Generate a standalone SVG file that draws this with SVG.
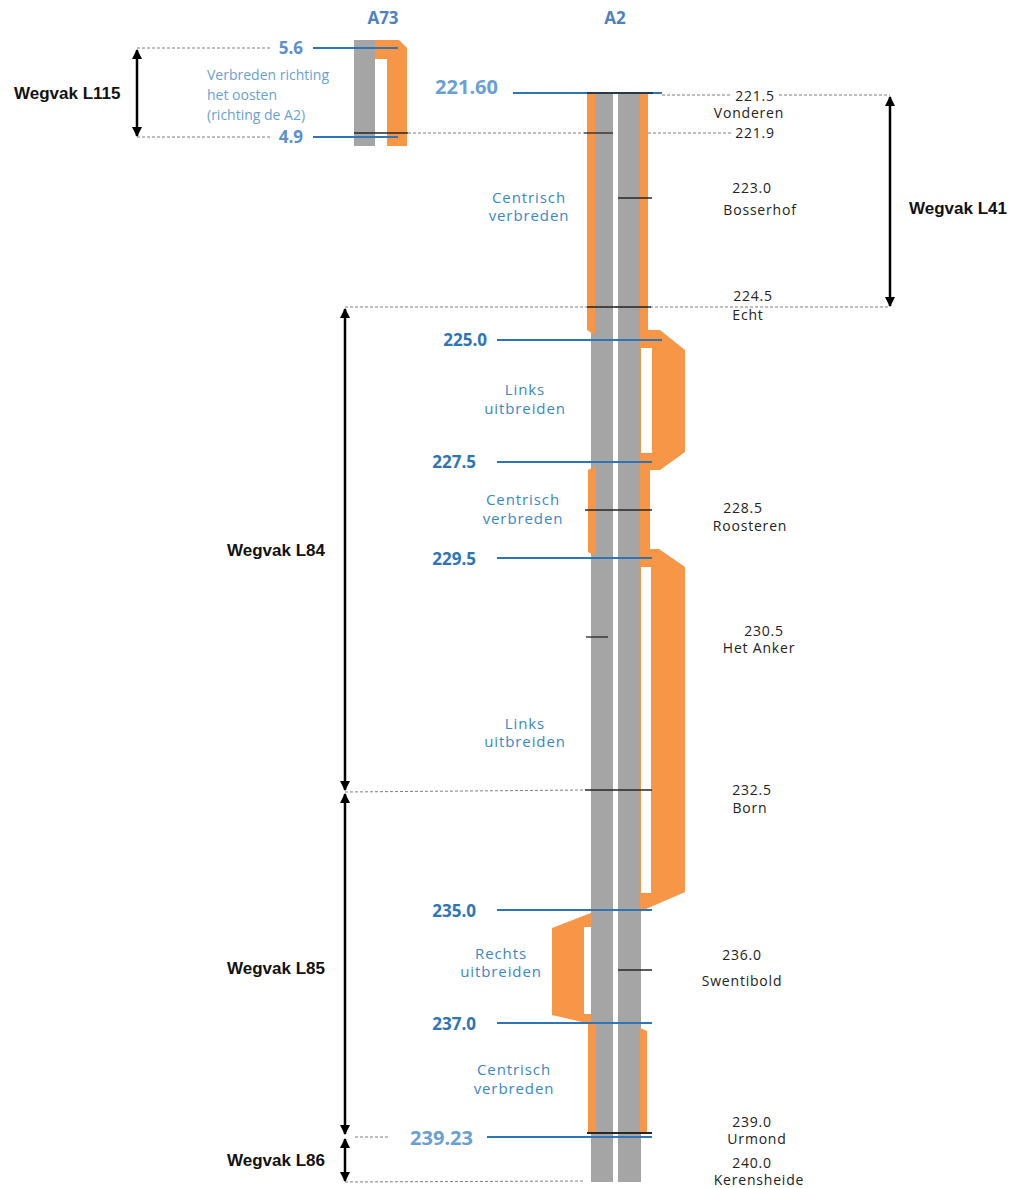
<svg xmlns="http://www.w3.org/2000/svg" width="1024" height="1188" viewBox="0 0 1024 1188">
<style>
.gray{fill:#a5a5a5}
.or{fill:#f79646}
.wh{fill:#ffffff}
.km{stroke:#2e75b6;stroke-width:2;fill:none}
.tick{stroke:#262626;stroke-width:1.3;fill:none}
.dash{stroke:#7f7f7f;stroke-width:1;stroke-dasharray:3 2;fill:none}
.arr{stroke:#000;stroke-width:2.5;fill:none;marker-start:url(#ah);marker-end:url(#ah)}
.wv{font-family:"Liberation Sans",Arial,sans-serif;font-weight:bold;font-size:17px;fill:#111}
.lbl{font-family:"Open Sans",sans-serif;font-size:14px;letter-spacing:0.8px;fill:#222;text-anchor:middle}
.sec{font-family:"Open Sans",sans-serif;font-size:15px;letter-spacing:0.9px;fill:#3b87c4;text-anchor:middle}
.kmt{font-family:"Open Sans",sans-serif;font-weight:bold;font-size:17px;fill:#2e75b6;text-anchor:end}
.kml{font-family:"Open Sans",sans-serif;font-weight:bold;font-size:20px;fill:#6a9fd4;text-anchor:end}
.hd{font-family:"Open Sans",sans-serif;font-weight:bold;font-size:17px;fill:#4f81bd;text-anchor:middle}
.a73t{font-family:"Open Sans",sans-serif;font-size:14px;fill:#6a9fd4}
</style>
<defs>
<marker id="ah" viewBox="0 0 10 10" refX="9" refY="5" markerWidth="4" markerHeight="4" orient="auto-start-reverse" markerUnits="strokeWidth">
<path d="M0,0 L10,5 L0,10 z" fill="#000"/>
</marker>
</defs>

<g id="headers">
<text class="hd" x="383" y="24">A73</text>
<text class="hd" x="615" y="24">A2</text>
</g>

<g id="a73-road">
<rect class="gray" x="354" y="40" width="21" height="106"/>
<path class="or" d="M375,40 L399,40 L407,48 L407,146 L387,146 L387,59 L375,59 Z"/>
</g>

<g id="a2-road">
<rect class="gray" x="591" y="93" width="22" height="1089"/>
<rect class="gray" x="618" y="93" width="23" height="1089"/>
<!-- Centrisch 221.6 - 225.0 -->
<path class="or" d="M587,93 L595,93 L595,335 L587,330 Z"/>
<rect class="or" x="640" y="93" width="8" height="240"/>
<!-- Links uitbreiden 225.0 - 227.5 -->
<path class="or" d="M640,330 L660,330 L685,350 L685,452 L660,470 L640,470 Z"/>
<rect class="wh" x="641" y="348" width="11" height="105"/>
<!-- Centrisch 227.5 - 229.5 -->
<path class="or" d="M588,470 L596,466 L596,556 L588,552 Z"/>
<rect class="or" x="640" y="465" width="10" height="90"/>
<!-- Links uitbreiden 229.5 - 235.0 -->
<path class="or" d="M640,549 L659,549 L685,567 L685,892 L646,909 L640,909 Z"/>
<rect class="wh" x="641" y="567" width="10" height="326"/>
<!-- Rechts uitbreiden 235.0 - 237.0 -->
<path class="or" d="M596,911 L552,928 L552,1015 L591,1024 L591,911 Z"/>
<rect class="wh" x="584" y="927" width="7" height="87"/>
<!-- Centrisch 237.0 - 239.23 -->
<path class="or" d="M588,1022 L596,1024 L596,1133 L588,1133 Z"/>
<path class="or" d="M640,1028 L647,1031 L647,1133 L640,1133 Z"/>
</g>

<g id="connectors">
<!-- dashed guide lines -->
<line class="dash" x1="137" y1="48" x2="272" y2="48"/>
<line class="dash" x1="137" y1="137" x2="272" y2="137"/>
<line class="dash" x1="408" y1="133" x2="584" y2="133"/>
<line class="dash" x1="648" y1="133" x2="732" y2="133"/>
<line class="dash" x1="662" y1="95" x2="731" y2="95"/>
<line class="dash" x1="779" y1="95" x2="890" y2="95"/>
<line class="dash" x1="345" y1="307" x2="890" y2="307"/>
<line class="dash" x1="345" y1="792" x2="585" y2="790"/>
<line class="dash" x1="355" y1="1137" x2="390" y2="1137"/>
<line class="dash" x1="345" y1="1182" x2="585" y2="1181"/>
<!-- km lines -->
<line class="km" x1="313" y1="48" x2="398" y2="48"/>
<line class="km" x1="313" y1="137" x2="398" y2="137"/>
<line class="km" x1="513" y1="93" x2="662" y2="93"/>
<line class="km" x1="497" y1="340" x2="662" y2="340"/>
<line class="km" x1="497" y1="462" x2="652" y2="462"/>
<line class="km" x1="497" y1="558" x2="652" y2="558"/>
<line class="km" x1="497" y1="910" x2="652" y2="910"/>
<line class="km" x1="497" y1="1023" x2="652" y2="1023"/>
<line class="km" x1="487" y1="1137" x2="652" y2="1137"/>
<!-- ticks -->
<line class="tick" x1="354" y1="133" x2="408" y2="133"/>
<line class="tick" x1="587" y1="93" x2="653" y2="93"/>
<line class="tick" x1="584" y1="133" x2="613" y2="133"/>
<line class="tick" x1="618" y1="198" x2="652" y2="198"/>
<line class="tick" x1="587" y1="307" x2="651" y2="307"/>
<line class="tick" x1="585" y1="510" x2="652" y2="510"/>
<line class="tick" x1="586" y1="637" x2="608" y2="637"/>
<line class="tick" x1="585" y1="790" x2="652" y2="790"/>
<line class="tick" x1="618" y1="970" x2="652" y2="970"/>
<line class="tick" x1="587" y1="1133" x2="652" y2="1133" style="stroke-width:2"/>
<!-- wegvak arrows -->
<line class="arr" x1="137" y1="50" x2="137" y2="136"/>
<line class="arr" x1="890" y1="97" x2="890" y2="306"/>
<line class="arr" x1="345" y1="309" x2="345" y2="790"/>
<line class="arr" x1="345" y1="794" x2="345" y2="1134"/>
<line class="arr" x1="345" y1="1139" x2="345" y2="1181"/>
</g>

<g id="wegvak-labels">
<text class="wv" x="14" y="99">Wegvak L115</text>
<text class="wv" x="909" y="214">Wegvak L41</text>
<text class="wv" x="227" y="556">Wegvak L84</text>
<text class="wv" x="227" y="974">Wegvak L85</text>
<text class="wv" x="227" y="1166">Wegvak L86</text>
</g>

<g id="a73-labels">
<text class="kmt" x="303" y="54" style="fill:#5b8fd0">5.6</text>
<text class="kmt" x="303" y="143" style="fill:#5b8fd0">4.9</text>
<text class="a73t" x="207" y="80">Verbreden richting</text>
<text class="a73t" x="207" y="100">het oosten</text>
<text class="a73t" x="207" y="120">(richting de A2)</text>
</g>

<g id="km-labels">
<text class="kml" x="498" y="94">221.60</text>
<text class="kmt" x="487" y="346">225.0</text>
<text class="kmt" x="476" y="468">227.5</text>
<text class="kmt" x="476" y="565">229.5</text>
<text class="kmt" x="476" y="917">235.0</text>
<text class="kmt" x="476" y="1030">237.0</text>
<text class="kml" x="473" y="1145">239.23</text>
</g>

<g id="section-labels">
<text class="sec" x="529" y="203">Centrisch</text>
<text class="sec" x="529" y="221">verbreden</text>
<text class="sec" x="525" y="395">Links</text>
<text class="sec" x="525" y="414">uitbreiden</text>
<text class="sec" x="523" y="505">Centrisch</text>
<text class="sec" x="523" y="524">verbreden</text>
<text class="sec" x="525" y="729">Links</text>
<text class="sec" x="525" y="747">uitbreiden</text>
<text class="sec" x="501" y="959">Rechts</text>
<text class="sec" x="501" y="977">uitbreiden</text>
<text class="sec" x="514" y="1075">Centrisch</text>
<text class="sec" x="514" y="1094">verbreden</text>
</g>

<g id="place-labels">
<text class="lbl" x="755" y="101">221.5</text>
<text class="lbl" x="749" y="118">Vonderen</text>
<text class="lbl" x="755" y="138">221.9</text>
<text class="lbl" x="752" y="193">223.0</text>
<text class="lbl" x="760" y="215">Bosserhof</text>
<text class="lbl" x="753" y="301">224.5</text>
<text class="lbl" x="748" y="320">Echt</text>
<text class="lbl" x="743" y="513">228.5</text>
<text class="lbl" x="750" y="531">Roosteren</text>
<text class="lbl" x="764" y="636">230.5</text>
<text class="lbl" x="759" y="653">Het Anker</text>
<text class="lbl" x="752" y="795">232.5</text>
<text class="lbl" x="750" y="813">Born</text>
<text class="lbl" x="742" y="960">236.0</text>
<text class="lbl" x="742" y="986">Swentibold</text>
<text class="lbl" x="752" y="1127">239.0</text>
<text class="lbl" x="757" y="1144">Urmond</text>
<text class="lbl" x="752" y="1168">240.0</text>
<text class="lbl" x="759" y="1185">Kerensheide</text>
</g>
</svg>
